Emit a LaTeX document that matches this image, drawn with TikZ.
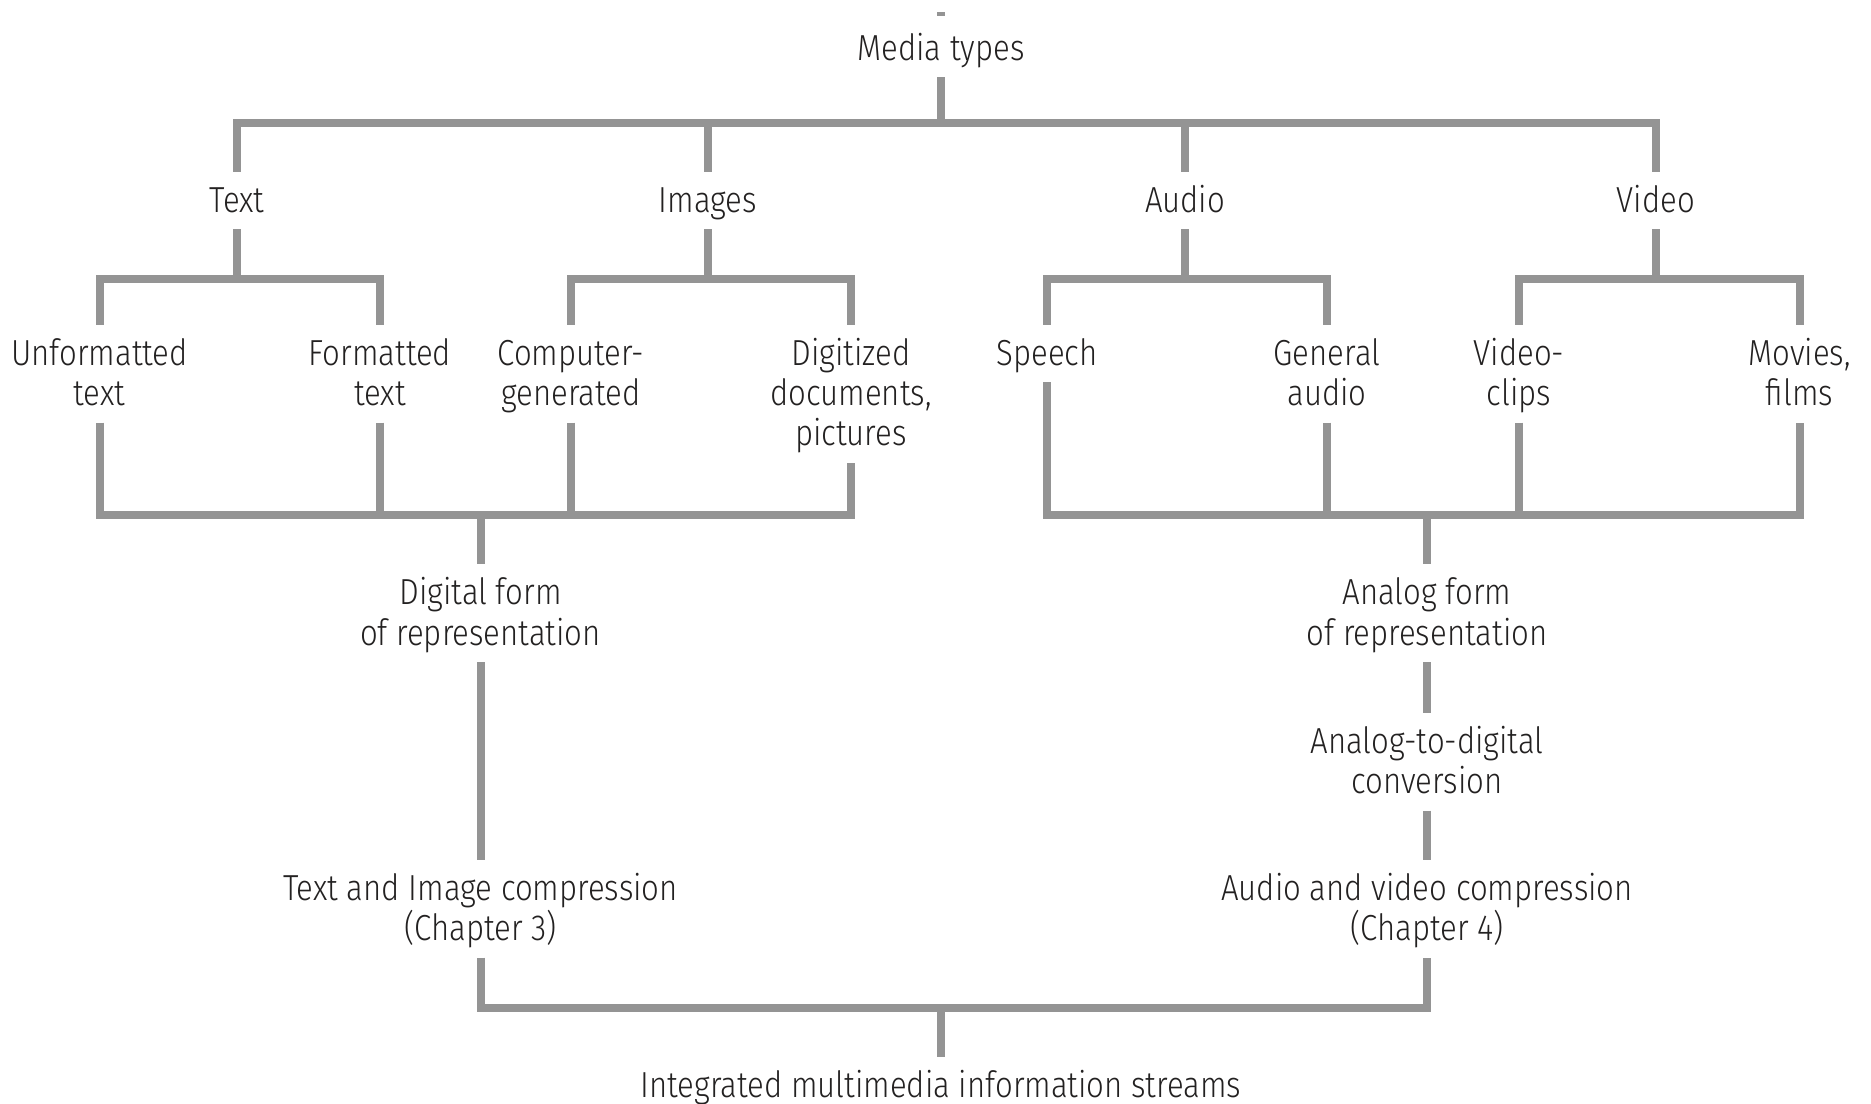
\documentclass[tikz,border=0pt]{standalone}
\usepackage{fontspec}
\setmainfont{Fira Sans}[UprightFont={* Light}, FakeStretch=0.86]
\usepackage{tikz}
\usetikzlibrary{positioning}

\definecolor{linegray}{RGB}{148,148,148}
\definecolor{textgray}{RGB}{35,33,33}
% struts so that every label has the same height and depth
\newcommand{\topstrut}{\rule{0pt}{0.355cm}}
\newcommand{\botstrut}{\rule[-0.12cm]{0pt}{0.12cm}}

\begin{document}
\begin{tikzpicture}[
    label/.style={align=center, text=textgray, inner xsep=2pt, inner ysep=0.05cm, outer sep=0pt,
      anchor=north, font=\fontsize{10.3pt}{11.4pt}\selectfont,
      execute at end node=\botstrut},
    bar/.style={draw=linegray, line width=0.08cm, line join=miter}]
  \useasboundingbox (0,0) rectangle (18.71,-11.04);
  \fill[white] (0,0) rectangle (18.71,-11.04);

  % labels
  \node[label] (media) at (9.41,-0.20) {\topstrut Media types};
  \node[label] (text) at (2.37,-1.72) {\topstrut Text};
  \node[label] (images) at (7.08,-1.72) {\topstrut Images};
  \node[label] (audio) at (11.85,-1.72) {\topstrut Audio};
  \node[label] (video) at (16.56,-1.72) {\topstrut Video};
  \node[label] (unf) at (0.995,-3.25) {\topstrut Unformatted\\text};
  \node[label] (fmt) at (3.80,-3.25) {\topstrut Formatted\\text};
  \node[label] (comp) at (5.71,-3.25) {\topstrut Computer-\\generated};
  \node[label] (digi) at (8.51,-3.25) {\topstrut Digitized\\documents,\\pictures};
  \node[label] (speech) at (10.47,-3.25) {\topstrut Speech};
  \node[label] (genaud) at (13.27,-3.25) {\topstrut General\\audio};
  \node[label] (clips) at (15.19,-3.25) {\topstrut Video-\\clips};
  \node[label] (movies) at (17.995,-3.25) {\topstrut Movies,\\films};
  \node[label] (digital) at (4.805,-5.645) {\topstrut Digital form\\of representation};
  \node[label] (analog) at (14.27,-5.645) {\topstrut Analog form\\of representation};
  \node[label] (adc) at (14.27,-7.13) {\topstrut Analog-to-digital\\conversion};
  \node[label] (ticomp) at (4.805,-8.60) {\topstrut Text and Image compression\\(Chapter 3)};
  \node[label] (avcomp) at (14.27,-8.60) {\topstrut Audio and video compression\\(Chapter 4)};
  \node[label] (streams) at (9.41,-10.57) {\topstrut Integrated multimedia information streams};

  % branch points
  \coordinate (mb) at (9.41,-1.23);
  \coordinate (tb) at (2.37,-2.79);
  \coordinate (ib) at (7.08,-2.79);
  \coordinate (ab) at (11.85,-2.79);
  \coordinate (vb) at (16.56,-2.79);
  \coordinate (db) at (4.805,-5.15);
  \coordinate (anb) at (14.27,-5.15);
  \coordinate (sb) at (9.41,-10.085);

  % top tree
  \draw[bar] (9.41,-0.125) -- (9.41,-0.16);
  \draw[bar] (media.south) -- (mb);
  \draw[bar] (text.north) |- (mb) -| (video.north);
  \draw[bar] (images.north) -- (images.north |- mb);
  \draw[bar] (audio.north) -- (audio.north |- mb);
  \draw[bar] (text.south) -- (tb);
  \draw[bar] (unf.north) |- (tb) -| (fmt.north);
  \draw[bar] (images.south) -- (ib);
  \draw[bar] (comp.north) |- (ib) -| (digi.north);
  \draw[bar] (audio.south) -- (ab);
  \draw[bar] (speech.north) |- (ab) -| (genaud.north);
  \draw[bar] (video.south) -- (vb);
  \draw[bar] (clips.north) |- (vb) -| (movies.north);

  % digital / analog
  \draw[bar] (unf.south) |- (db) -| (digi.south);
  \draw[bar] (fmt.south) -- (fmt.south |- db);
  \draw[bar] (comp.south) -- (comp.south |- db);
  \draw[bar] (db) -- (digital.north);
  \draw[bar] (speech.south) |- (anb) -| (movies.south);
  \draw[bar] (genaud.south) -- (genaud.south |- anb);
  \draw[bar] (clips.south) -- (clips.south |- anb);
  \draw[bar] (anb) -- (analog.north);

  % compression
  \draw[bar] (digital.south) -- (ticomp.north);
  \draw[bar] (analog.south) -- (adc.north);
  \draw[bar] (adc.south) -- (avcomp.north);
  \draw[bar] (ticomp.south) |- (sb) -| (avcomp.south);
  \draw[bar] (sb) -- (streams.north);
\end{tikzpicture}
\end{document}
